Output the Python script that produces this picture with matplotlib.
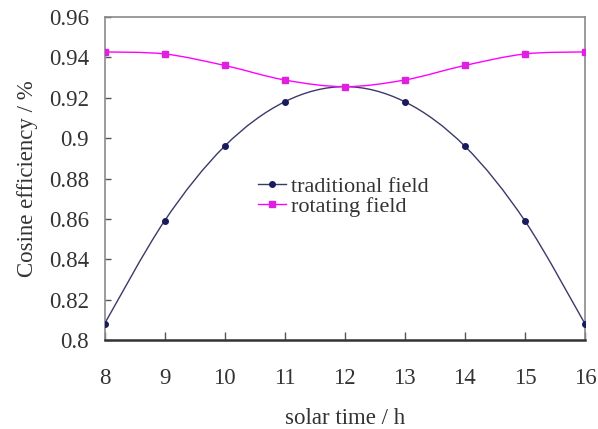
import numpy as np
import matplotlib.pyplot as plt
from matplotlib.path import Path
from matplotlib.patches import PathPatch

plt.rcParams['font.family'] = ['Liberation Serif', 'DejaVu Serif']

# 數據
hours = [8, 9, 10, 11, 12, 13, 14, 15, 16]
traditional = [0.808, 0.859, 0.896, 0.918, 0.9255, 0.918, 0.896, 0.859, 0.808]
rotating = [0.9427, 0.9417, 0.936, 0.9288, 0.9255, 0.9288, 0.936, 0.9417, 0.9427]
yticks = [0.8, 0.82, 0.84, 0.86, 0.88, 0.9, 0.92, 0.94, 0.96]
ytick_labels = ['0.8', '0.82', '0.84', '0.86', '0.88', '0.9', '0.92', '0.94', '0.96']


def smooth_path(x, y):
    # Excel 式平滑線：每段用三次貝茲曲線連接資料點
    x = np.asarray(x, float)
    y = np.asarray(y, float)
    verts = [(x[0], y[0])]
    codes = [Path.MOVETO]
    n = len(x)
    for i in range(n - 1):
        x0, y0 = (x[i - 1], y[i - 1]) if i > 0 else (x[i], y[i])
        x3, y3 = (x[i + 2], y[i + 2]) if i + 2 < n else (x[i + 1], y[i + 1])
        c1 = (x[i] + (x[i + 1] - x0) / 6, y[i] + (y[i + 1] - y0) / 6)
        c2 = (x[i + 1] - (x3 - x[i]) / 6, y[i + 1] - (y3 - y[i]) / 6)
        verts += [c1, c2, (x[i + 1], y[i + 1])]
        codes += [Path.CURVE4] * 3
    return Path(verts, codes)


fig = plt.figure(figsize=(5.98, 4.29), dpi=100)
ax = fig.add_axes([104.5 / 598, 1 - 340 / 429, 480.5 / 598, 323 / 429])

navy = '#1a1a5e'
mag = '#ff00ff'
fs = 16.5

ax.add_patch(PathPatch(smooth_path(hours, traditional), fill=False,
                       edgecolor='#3a3a6a', linewidth=1.0, zorder=2))
ax.add_patch(PathPatch(smooth_path(hours, rotating), fill=False,
                       edgecolor=mag, linewidth=1.0, zorder=2))
ax.plot(hours, traditional, linestyle='none', marker='o', markersize=4,
        color=navy, zorder=3)
ax.plot(hours, rotating, linestyle='none', marker='s', markersize=4,
        color='#e020e0', zorder=3)

# 圖例用的代理線
ax.plot([], [], color='#3a3a6a', marker='o', markersize=4, mfc=navy,
        mec=navy, linewidth=1.0, label='traditional field')
ax.plot([], [], color=mag, marker='s', markersize=4, mfc='#e020e0',
        mec='#e020e0', linewidth=1.0, label='rotating field')
leg = ax.legend(loc='upper left', bbox_to_anchor=(0.302, 0.535), frameon=False,
                fontsize=16, handlelength=1.25, handletextpad=0.2,
                labelspacing=0.0, borderaxespad=0)
for t in leg.get_texts():
    t.set_color('#333333')

ax.set_xlim(8, 16)
ax.set_ylim(0.8, 0.96)
ax.set_xticks(hours)
ax.set_xticklabels([str(h) for h in hours])
ax.set_yticks(yticks)
ax.set_yticklabels(ytick_labels)
ax.tick_params(axis='x', direction='in', length=6, width=1, color='#555555',
               labelsize=fs, pad=20, labelcolor='#333333')
ax.tick_params(axis='y', direction='in', length=4, width=1, color='#555555',
               labelsize=fs, pad=11, labelcolor='#333333')

for s in ['top', 'right', 'left']:
    ax.spines[s].set_color('#8a8a8a')
    ax.spines[s].set_linewidth(1.2)
ax.spines['bottom'].set_color('#333333')
ax.spines['bottom'].set_linewidth(1.8)

ax.set_xlabel('solar time / h', fontsize=fs, color='#333333', labelpad=14)
ax.set_ylabel('Cosine efficiency / %', fontsize=fs, color='#333333',
              labelpad=8)

plt.savefig('out.png', dpi=100)
